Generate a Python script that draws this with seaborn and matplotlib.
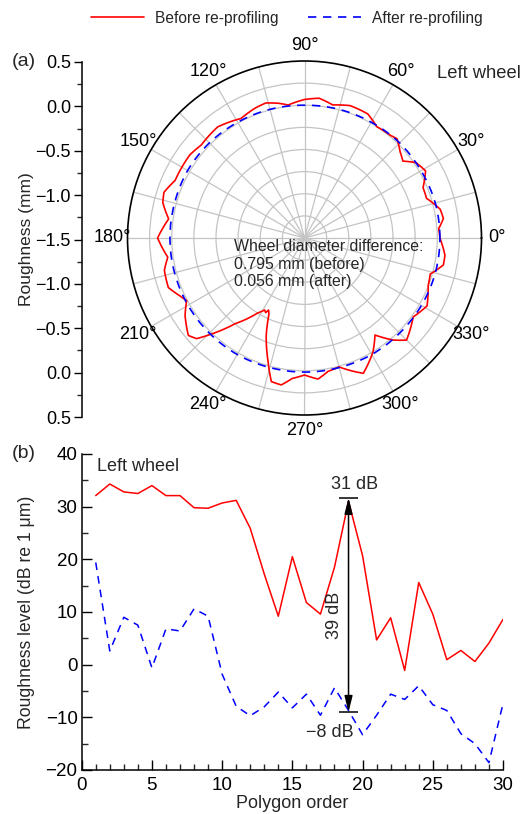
import numpy as np
import pandas as pd
import matplotlib
matplotlib.use("Agg")
import matplotlib.pyplot as plt
from matplotlib.lines import Line2D
from matplotlib.ticker import MultipleLocator
import seaborn as sns

sns.set_theme(style="white")
plt.rcParams['font.family'] = ['Liberation Sans', 'DejaVu Sans']
plt.rcParams['axes.unicode_minus'] = True

# ---------------- data: (a) polar roughness ----------------
before_angle_deg = [0, 4, 8, 12, 18, 23, 29, 34, 38, 42, 47, 50, 57, 63, 71, 78, 84, 90,
                    97, 101, 106, 111, 118, 121, 128, 138, 144, 150, 156, 162, 166, 172,
                    180, 188, 193, 200, 205, 208, 213, 220, 223, 226, 231, 238, 241, 242.5,
                    243.5, 245, 248.5, 253.6, 257, 261, 265, 270, 275.5, 280, 285, 293.5,
                    301, 306, 311, 315, 324, 331, 339, 344, 349, 353, 360]
before_r = [0.03, 0.02, 0.085, 0.067, -0.05, -0.045, 0.064, 0.022, -0.089, -0.046, 0.033,
            0.013, 0.0, 0.074, 0.082, 0.037, 0.088, 0.065, 0.014, 0.051, 0.087, 0.069,
            0.029, 0.049, 0.093, 0.07, 0.10, 0.10, 0.10, 0.17, 0.15, 0.05, 0.16, 0.06,
            0.125, 0.137, 0.051, 0.008, 0.109, 0.213, 0.167, 0.006, -0.254, -0.50, -0.57,
            -0.55, -0.59, -0.55, -0.32, -0.043, 0.165, 0.181, 0.093, 0.048, 0.101, 0.03,
            0.008, 0.167, 0.002, -0.145, 0.028, 0.131, 0.018, 0.083, -0.003, -0.022,
            0.098, 0.099, 0.03]

after_angle_deg = [0, 15, 30, 45, 60, 75, 90, 105, 120, 135, 150, 165, 180, 195, 210,
                   225, 240, 255, 270, 285, 300, 315, 330, 345, 360]
after_r = [0.03, 0.03, 0.02, 0.02, 0.01, 0.005, 0.0, 0.005, 0.01, 0.02, 0.025, 0.02, 0.02,
           0.02, 0.02, 0.02, 0.02, 0.015, 0.015, 0.015, 0.02, 0.02, 0.025, 0.03, 0.03]

left_axis_labels = ["0.5", "0.0", "\u22120.5", "\u22121.0", "\u22121.5",
                    "\u22121.0", "\u22120.5", "0.0", "0.5"]

# ---------------- data: (b) polygon spectrum ----------------
order = list(range(1, 31))
before_db = [32.1, 34.3, 32.8, 32.5, 34.0, 32.1, 32.1, 29.8, 29.7, 30.7, 31.2, 25.9, 17.2,
             9.2, 20.5, 11.8, 9.6, 18.5, 31.0, 20.7, 4.7, 8.9, -1.1, 15.6, 9.6, 0.95, 2.7,
             0.6, 4.1, 8.6]
after_db = [19.4, 2.6, 9.0, 7.5, -0.6, 6.8, 6.4, 10.6, 9.2, -1.8, -7.9, -9.7, -8.0, -5.2,
            -8.2, -5.6, -9.6, -4.4, -8.7, -13.3, -9.6, -5.6, -6.6, -4.0, -7.6, -8.7,
            -13.1, -15.0, -18.6, -7.4]

RED = "#ff0000"
BLUE = "#0000ff"
DASH = (0, (5, 4))

W, H = 527, 814
fig = plt.figure(figsize=(W / 100, H / 100), dpi=100)

# ---------------- polar panel ----------------
cx, cy, R = 304.5, 238.0, 177.0
axp = fig.add_axes([(cx - R) / W, 1 - (cy + R) / H, 2 * R / W, 2 * R / H],
                   projection="polar")
df_b = pd.DataFrame({"theta": np.deg2rad(before_angle_deg), "r": before_r})
df_a = pd.DataFrame({"theta": np.deg2rad(after_angle_deg), "r": after_r})
sns.lineplot(data=df_b, x="theta", y="r", ax=axp, color=RED, lw=1.2, sort=False,
             estimator=None)
sns.lineplot(data=df_a, x="theta", y="r", ax=axp, color=BLUE, lw=1.2, sort=False,
             estimator=None, linestyle=DASH)
for ln in axp.get_lines():
    ln.get_path()._interpolation_steps = 8
axp.set_xlabel("")
axp.set_ylabel("")
axp.set_theta_zero_location("E")
axp.set_theta_direction(1)
axp.set_ylim(-1.5, 0.5)
axp.set_rorigin(-1.5)
axp.set_yticks(np.arange(-1.25, 0.5, 0.25))
axp.set_yticklabels([])
ticks = np.arange(0, 360, 15)
axp.set_xticks(np.deg2rad(ticks))
axp.set_xticklabels([f"{t}\u00b0" if t % 30 == 0 else "" for t in ticks], fontsize=13)
axp.tick_params(axis="x", pad=4, direction="in", length=5, width=1, colors="black")
axp.grid(True, color="#c4c4c4", lw=0.9)
axp.spines["polar"].set_color("black")
axp.spines["polar"].set_linewidth(1.2)
axp.set_facecolor("white")

fig.text(234 / W, 1 - 264 / H,
         "Wheel diameter difference:\n0.795 mm (before)\n0.056 mm (after)",
         fontsize=11.4, ha="left", va="center", linespacing=1.18)
fig.text(437 / W, 1 - 73 / H, "Left wheel", fontsize=13.2, ha="left", va="center")
fig.text(12 / W, 1 - 62 / H, "(a)", fontsize=14, ha="left", va="center")

# fake left axis for polar panel
ax_w = 0.02
axl = fig.add_axes([82 / W, 1 - 417 / H, ax_w, (417 - 62) / H])
axl.set_ylim(-2, 2)
axl.set_xlim(0, 1)
axl.patch.set_visible(False)
for s in ["top", "right", "bottom"]:
    axl.spines[s].set_visible(False)
axl.spines["left"].set_color("black")
axl.spines["left"].set_linewidth(1.1)
axl.set_xticks([])
axl.set_yticks(np.arange(-2, 2.01, 0.5))
axl.set_yticklabels(left_axis_labels[::-1], fontsize=13)
axl.yaxis.set_minor_locator(MultipleLocator(0.25))
axl.tick_params(axis="y", which="major", direction="out", length=6, width=1, left=True,
                pad=2, colors="black")
axl.tick_params(axis="y", which="minor", direction="out", length=3.5, width=1, left=True)
axl.set_ylabel("Roughness (mm)", fontsize=12.5, va="center")
axl.yaxis.set_label_coords((27 - 82) / (ax_w * W), 0.5)

# ---------------- line panel ----------------
x0, x1 = 81.7, 503.0
y0, y1 = 454.0, 770.0
axb = fig.add_axes([x0 / W, 1 - y1 / H, (x1 - x0) / W, (y1 - y0) / H])
df2 = pd.DataFrame({"order": order, "before": before_db, "after": after_db})
sns.lineplot(data=df2, x="order", y="before", ax=axb, color=RED, lw=1.1)
sns.lineplot(data=df2, x="order", y="after", ax=axb, color=BLUE, lw=1.1, linestyle=DASH)
axb.set_xlim(0, 30)
axb.set_ylim(-20, 40)
axb.set_xticks(range(0, 31, 5))
axb.set_yticks(range(-20, 41, 10))
axb.xaxis.set_minor_locator(MultipleLocator(1))
axb.yaxis.set_minor_locator(MultipleLocator(5))
axb.tick_params(which="major", direction="in", length=7, width=1, labelsize=13.5,
                bottom=True, left=True, colors="black")
axb.tick_params(axis="x", which="major", pad=5)
axb.tick_params(axis="y", which="major", pad=3)
axb.tick_params(which="minor", direction="in", length=4, width=1, bottom=True, left=True)
for s in ["top", "right"]:
    axb.spines[s].set_visible(False)
for s in ["left", "bottom"]:
    axb.spines[s].set_color("black")
    axb.spines[s].set_linewidth(1.1)
axb.set_facecolor("white")
axb.set_xlabel("Polygon order", fontsize=13, labelpad=1)
axb.set_ylabel("Roughness level (dB re 1 \u03bcm)", fontsize=12.7, va="center")
axb.yaxis.set_label_coords((27 - x0) / (x1 - x0), 0.5)
axb.text(1.1, 37.6, "Left wheel", fontsize=13, ha="left", va="center")
fig.text(12 / W, 1 - 454 / H, "(b)", fontsize=14, ha="left", va="center")

# annotation: 39 dB difference at order 19
top_v, bot_v = 31.7, -9.0
axb.annotate("", xy=(19, top_v), xytext=(19, bot_v),
             arrowprops=dict(arrowstyle="<|-|>,head_length=0.8,head_width=0.2",
                             color="black", lw=1.1, mutation_scale=12,
                             shrinkA=0, shrinkB=0))
axb.hlines([top_v, bot_v], 18.3, 19.7, color="black", lw=1.1)
axb.text(19.45, 34.2, "31 dB", fontsize=13, ha="center", va="center")
axb.text(17.7, -12.8, "\u22128 dB", fontsize=13, ha="center", va="center")
axb.text(17.97, 9.3, "39 dB", fontsize=13, ha="center", va="center", rotation=90)

# legend
handles = [Line2D([], [], color=RED, lw=1.2),
           Line2D([], [], color=BLUE, lw=1.2, linestyle=DASH)]
fig.legend(handles, ["Before re-profiling", "After re-profiling"], loc="center",
           bbox_to_anchor=(287 / W, 1 - 18 / H), ncol=2, frameon=False, fontsize=11.2,
           handlelength=3.4, handletextpad=0.7, columnspacing=1.9)

fig.savefig("out.png", dpi=100, facecolor="white")
